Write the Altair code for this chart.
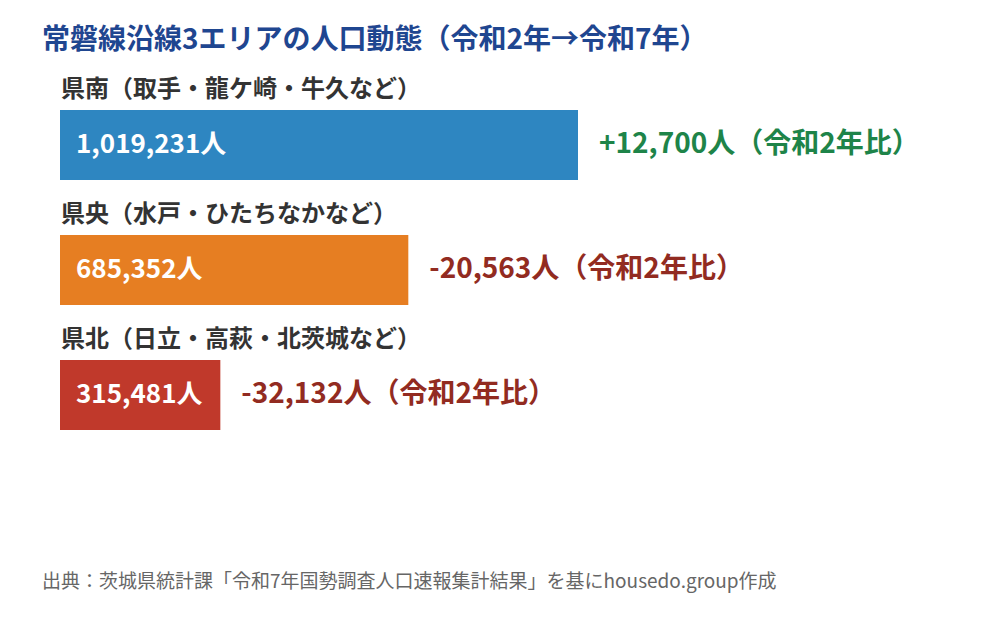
import altair as alt
import pandas as pd

# values
areas = ["県南（取手・龍ケ崎・牛久など）", "県央（水戸・ひたちなかなど）", "県北（日立・高萩・北茨城など）"]
population = [1019231, 685352, 315481]
change = [12700, -20563, -32132]
bar_colors = ["#2e86c1", "#e67e22", "#c0392b"]

FONT = "Noto Sans CJK JP"

df = pd.DataFrame({"area": areas, "pop": population, "change": change})
df["pop_label"] = df["pop"].map(lambda v: f"{v:,}人")
df["change_label"] = df["change"].map(lambda v: f"{v:+,}人（令和2年比）")
df["sign"] = df["change"].map(lambda v: "up" if v > 0 else "down")

y = alt.Y("area:N", sort=areas, axis=None,
          scale=alt.Scale(paddingInner=0.44, paddingOuter=0))
x_scale = alt.Scale(domain=[0, max(population)], nice=False, zero=True)

base = alt.Chart(df).encode(y=y)

bars = base.mark_bar(size=70).encode(
    x=alt.X("pop:Q", scale=x_scale, axis=None),
    color=alt.Color("area:N", scale=alt.Scale(domain=areas, range=bar_colors), legend=None),
)

cat_labels = base.mark_text(align="left", baseline="middle", dx=1, dy=-55,
                            font=FONT, fontSize=24, fontWeight="bold", color="#333333").encode(
    x=alt.datum(0), text="area:N"
)

val_labels = base.mark_text(align="left", baseline="middle", dx=16,
                            font=FONT, fontSize=26, fontWeight="bold", color="white").encode(
    x=alt.datum(0), text="pop_label:N"
)

chg_labels = base.mark_text(align="left", baseline="middle", dx=21,
                            font=FONT, fontSize=28, fontWeight="bold").encode(
    x=alt.X("pop:Q", scale=x_scale),
    text="change_label:N",
    color=alt.Color("sign:N", scale=alt.Scale(domain=["up", "down"], range=["#1e8449", "#922b21"]),
                    legend=None),
)

footer = alt.Chart(pd.DataFrame({"t": ["出典：茨城県統計課「令和7年国勢調査人口速報集計結果」を基にhousedo.group作成"]})).mark_text(
    align="left", baseline="middle", font=FONT, fontSize=19, color="#666666"
).encode(x=alt.value(-18), y=alt.value(472), text="t:N")

chart = alt.layer(bars, cat_labels, val_labels, chg_labels, footer).resolve_scale(
    color="independent"
).properties(
    width=518,
    height=320,
    autosize=alt.AutoSizeParams(type="none"),
    padding={"left": 52, "top": 102, "right": 414, "bottom": 182},
    title=alt.TitleParams(
        "常磐線沿線3エリアの人口動態（令和2年→令和7年）",
        anchor="start", offset=23, font=FONT, fontSize=28,
        fontWeight="bold", color="#1f4690",
    ),
).configure(background="white").configure_view(strokeWidth=0)

chart.save("out.html", embed_options={"renderer": "svg", "actions": False})
